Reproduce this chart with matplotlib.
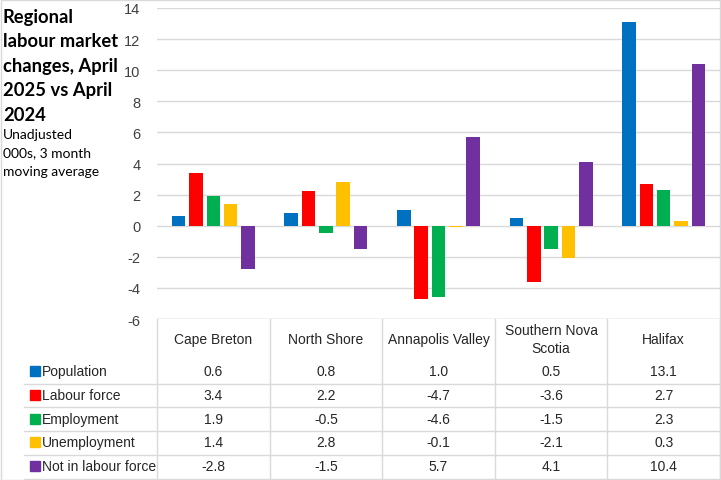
import numpy as np
import matplotlib
matplotlib.use("Agg")
import matplotlib.pyplot as plt
from matplotlib.lines import Line2D
from matplotlib.patches import Rectangle

# data
regions = ["Cape Breton", "North Shore", "Annapolis Valley", "Southern Nova\nScotia", "Halifax"]
series_names = ["Population", "Labour force", "Employment", "Unemployment", "Not in labour force"]
population = [0.6, 0.8, 1.0, 0.5, 13.1]
labour_force = [3.4, 2.2, -4.7, -3.6, 2.7]
employment = [1.9, -0.5, -4.6, -1.5, 2.3]
unemployment = [1.4, 2.8, -0.1, -2.1, 0.3]
not_in_lf = [-2.8, -1.5, 5.7, 4.1, 10.4]
colors = ["#0070C0", "#FF0000", "#00B050", "#FFC000", "#7030A0"]

all_series = [population, labour_force, employment, unemployment, not_in_lf]

W, H = 721, 481
fig = plt.figure(figsize=(W / 100, H / 100), dpi=100)
plt.rcParams['font.family'] = ['Liberation Sans', 'DejaVu Sans']

def fx(px):
    return px / W

def fy(py):
    return 1 - py / H

# plot area
left, right, top, bottom = 157, 720, 9, 320
ax = fig.add_axes([fx(left), fy(bottom), fx(right - left), fy(top) - fy(bottom)])

x = np.arange(len(regions))
slot = 0.154
width = 0.12
for i, vals in enumerate(all_series):
    ax.bar(x + (i - 2) * slot, vals, width, color=colors[i], zorder=3)

ax.set_xlim(-0.5, len(regions) - 0.5)
ax.set_ylim(-6, 14)
ax.set_yticks(range(-6, 15, 2))
ax.set_yticklabels([str(v) for v in range(-6, 15, 2)])
ax.tick_params(axis="y", length=0, pad=12, labelsize=10.5, labelcolor="#404040")
ax.set_xticks([])
ax.grid(axis="y", color="#D9D9D9", linewidth=1, zorder=0)
for s in ax.spines.values():
    s.set_visible(False)
ax.axhline(-6, color="#D9D9D9", linewidth=1, zorder=1)

# title and subtitle
fig.text(fx(3), fy(9), "Regional\nlabour market\nchanges, April\n2025 vs April\n2024",
         ha="left", va="top", fontsize=13.2, fontweight="bold", family=["Lato", "DejaVu Sans"],
         linespacing=1.53, color="black")
fig.text(fx(3), fy(129), "Unadjusted\n000s, 3 month\nmoving average",
         ha="left", va="top", fontsize=10, family=["Lato", "DejaVu Sans"],
         linespacing=1.65, color="black")

# data table
col_w = (right - left) / len(regions)
line_kw = dict(color="#D9D9D9", linewidth=1, transform=fig.transFigure)
# vertical borders
for j in range(len(regions) + 1):
    xp = left + j * col_w
    fig.add_artist(Line2D([fx(xp), fx(xp)], [fy(320), fy(480)], **line_kw))
# horizontal borders
row_lines = [385, 408, 432, 456, 480]
for yp in row_lines:
    fig.add_artist(Line2D([fx(24), fx(right)], [fy(yp), fy(yp)], **line_kw))

# header
for j, name in enumerate(regions):
    fig.text(fx(left + (j + 0.5) * col_w), fy(340), name, ha="center", va="center",
             fontsize=10, color="#262626", linespacing=1.3)

row_centers = [372, 396, 420, 443, 467]
for i, (name, vals) in enumerate(zip(series_names, all_series)):
    yc = row_centers[i]
    fig.add_artist(Rectangle((fx(30), fy(yc + 5)), fx(10), fy(yc - 5) - fy(yc + 5),
                             color=colors[i], transform=fig.transFigure))
    fig.text(fx(42), fy(yc), name, ha="left", va="center", fontsize=10, color="#262626")
    for j, v in enumerate(vals):
        fig.text(fx(left + (j + 0.5) * col_w), fy(yc), f"{v:.1f}", ha="center", va="center",
                 fontsize=10, color="#262626")

# chart border
fig.add_artist(Rectangle((0.001, 0.001), 0.998, 0.997, fill=False, edgecolor="#D9D9D9",
                         linewidth=1, transform=fig.transFigure))

fig.savefig("out.png", dpi=100)
